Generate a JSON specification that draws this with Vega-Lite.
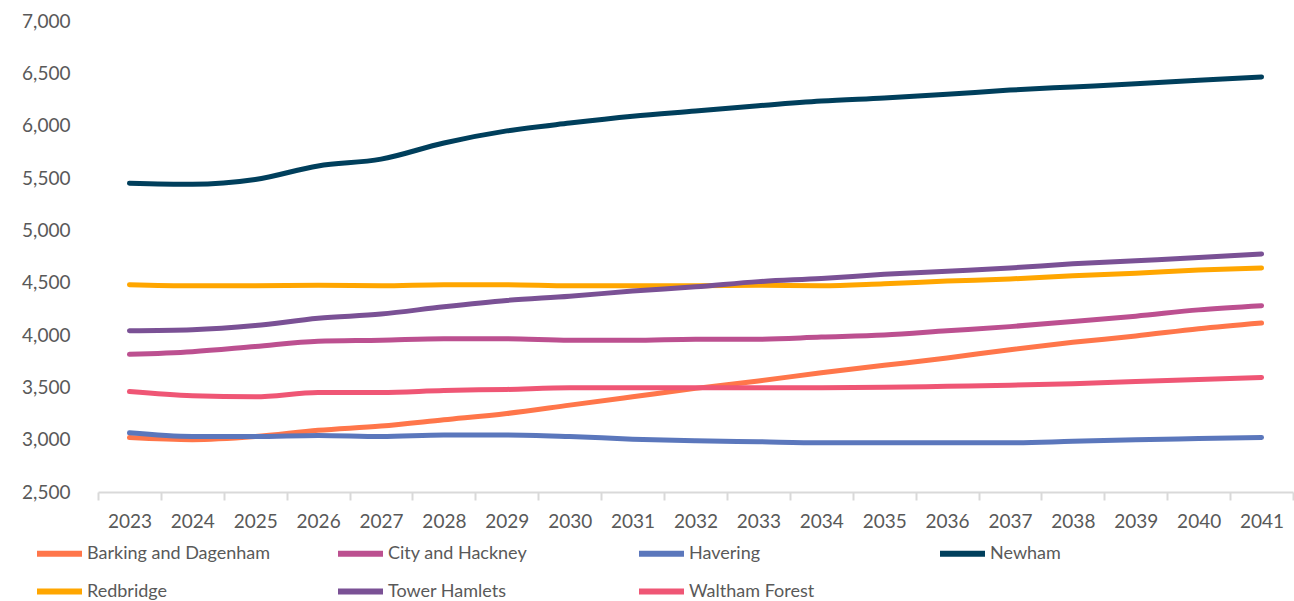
{
  "$schema": "https://vega.github.io/schema/vega-lite/v6.json",
  "width": 1195,
  "height": 471,
  "autosize": {"type": "none"},
  "padding": {"left": 98, "top": 21, "right": 1, "bottom": 109},
  "background": "white",
  "config": {
    "view": {"stroke": null},
    "font": "Lato"
  },
  "datasets": {
    "wide": [
      {"Year": "2023", "Barking and Dagenham": 3020, "City and Hackney": 3815, "Havering": 3065, "Newham": 5450, "Redbridge": 4480, "Tower Hamlets": 4040, "Waltham Forest": 3460},
      {"Year": "2024", "Barking and Dagenham": 3000, "City and Hackney": 3840, "Havering": 3030, "Newham": 5440, "Redbridge": 4470, "Tower Hamlets": 4050, "Waltham Forest": 3420},
      {"Year": "2025", "Barking and Dagenham": 3030, "City and Hackney": 3890, "Havering": 3030, "Newham": 5485, "Redbridge": 4470, "Tower Hamlets": 4090, "Waltham Forest": 3410},
      {"Year": "2026", "Barking and Dagenham": 3090, "City and Hackney": 3940, "Havering": 3040, "Newham": 5615, "Redbridge": 4475, "Tower Hamlets": 4160, "Waltham Forest": 3450},
      {"Year": "2027", "Barking and Dagenham": 3130, "City and Hackney": 3950, "Havering": 3030, "Newham": 5680, "Redbridge": 4470, "Tower Hamlets": 4200, "Waltham Forest": 3450},
      {"Year": "2028", "Barking and Dagenham": 3190, "City and Hackney": 3965, "Havering": 3045, "Newham": 5835, "Redbridge": 4480, "Tower Hamlets": 4270, "Waltham Forest": 3470},
      {"Year": "2029", "Barking and Dagenham": 3250, "City and Hackney": 3965, "Havering": 3045, "Newham": 5950, "Redbridge": 4480, "Tower Hamlets": 4330, "Waltham Forest": 3480},
      {"Year": "2030", "Barking and Dagenham": 3330, "City and Hackney": 3950, "Havering": 3030, "Newham": 6025, "Redbridge": 4470, "Tower Hamlets": 4370, "Waltham Forest": 3495},
      {"Year": "2031", "Barking and Dagenham": 3410, "City and Hackney": 3950, "Havering": 3005, "Newham": 6090, "Redbridge": 4470, "Tower Hamlets": 4420, "Waltham Forest": 3495},
      {"Year": "2032", "Barking and Dagenham": 3490, "City and Hackney": 3960, "Havering": 2990, "Newham": 6140, "Redbridge": 4470, "Tower Hamlets": 4460, "Waltham Forest": 3495},
      {"Year": "2033", "Barking and Dagenham": 3560, "City and Hackney": 3960, "Havering": 2980, "Newham": 6190, "Redbridge": 4475, "Tower Hamlets": 4510, "Waltham Forest": 3495},
      {"Year": "2034", "Barking and Dagenham": 3640, "City and Hackney": 3980, "Havering": 2970, "Newham": 6235, "Redbridge": 4470, "Tower Hamlets": 4540, "Waltham Forest": 3495},
      {"Year": "2035", "Barking and Dagenham": 3710, "City and Hackney": 4000, "Havering": 2970, "Newham": 6265, "Redbridge": 4490, "Tower Hamlets": 4580, "Waltham Forest": 3500},
      {"Year": "2036", "Barking and Dagenham": 3780, "City and Hackney": 4040, "Havering": 2970, "Newham": 6300, "Redbridge": 4515, "Tower Hamlets": 4610, "Waltham Forest": 3510},
      {"Year": "2037", "Barking and Dagenham": 3860, "City and Hackney": 4080, "Havering": 2970, "Newham": 6340, "Redbridge": 4535, "Tower Hamlets": 4640, "Waltham Forest": 3520},
      {"Year": "2038", "Barking and Dagenham": 3930, "City and Hackney": 4130, "Havering": 2985, "Newham": 6370, "Redbridge": 4565, "Tower Hamlets": 4680, "Waltham Forest": 3535},
      {"Year": "2039", "Barking and Dagenham": 3990, "City and Hackney": 4180, "Havering": 3000, "Newham": 6400, "Redbridge": 4590, "Tower Hamlets": 4710, "Waltham Forest": 3555},
      {"Year": "2040", "Barking and Dagenham": 4060, "City and Hackney": 4240, "Havering": 3010, "Newham": 6435, "Redbridge": 4620, "Tower Hamlets": 4740, "Waltham Forest": 3575},
      {"Year": "2041", "Barking and Dagenham": 4115, "City and Hackney": 4280, "Havering": 3020, "Newham": 6465, "Redbridge": 4640, "Tower Hamlets": 4775, "Waltham Forest": 3595}
    ]
  },
  "data": {"name": "wide"},
  "transform": [
    {"fold": ["Barking and Dagenham", "City and Hackney", "Havering", "Newham", "Redbridge", "Tower Hamlets", "Waltham Forest"], "as": ["Borough", "Value"]}
  ],
  "mark": {"type": "line", "interpolate": "monotone", "strokeWidth": 5, "strokeCap": "round", "strokeJoin": "round"},
  "encoding": {
    "x": {
      "field": "Year", "type": "ordinal",
      "bandPosition": 0.5,
      "scale": {"type": "band", "paddingInner": 0, "paddingOuter": 0},
      "axis": {
        "title": null, "labelAngle": 0, "tickBand": "extent",
        "domainColor": "#d9d9d9", "domainWidth": 2,
        "tickColor": "#d9d9d9", "tickWidth": 2, "tickSize": 8,
        "labelFontSize": 19, "labelColor": "#595959", "labelPadding": 12,
        "labelFont": "Lato"
      }
    },
    "y": {
      "field": "Value", "type": "quantitative",
      "scale": {"domain": [2500, 7000], "nice": false, "zero": false},
      "axis": {
        "title": null, "values": [2500, 3000, 3500, 4000, 4500, 5000, 5500, 6000, 6500, 7000],
        "format": ",d", "grid": false, "domain": false, "ticks": false,
        "labelFontSize": 19, "labelColor": "#595959", "labelPadding": 28,
        "labelFont": "Lato"
      }
    },
    "color": {
      "field": "Borough", "type": "nominal",
      "scale": {
        "domain": ["Barking and Dagenham", "City and Hackney", "Havering", "Newham", "Redbridge", "Tower Hamlets", "Waltham Forest"],
        "range": ["#ff764a", "#bc5090", "#5b77bc", "#003f5c", "#ffa600", "#7a5195", "#ef5675"]
      },
      "legend": {
        "title": null, "orient": "none", "legendX": -64, "legendY": 507,
        "direction": "horizontal", "columns": 4, "gridAlign": "all",
        "columnPadding": 55, "rowPadding": -15,
        "symbolType": "stroke", "symbolSize": 2025, "symbolStrokeWidth": 6,
        "labelFontSize": 18, "labelColor": "#595959", "labelOffset": 2,
        "labelFont": "Lato", "labelLimit": 400
      }
    }
  }
}
